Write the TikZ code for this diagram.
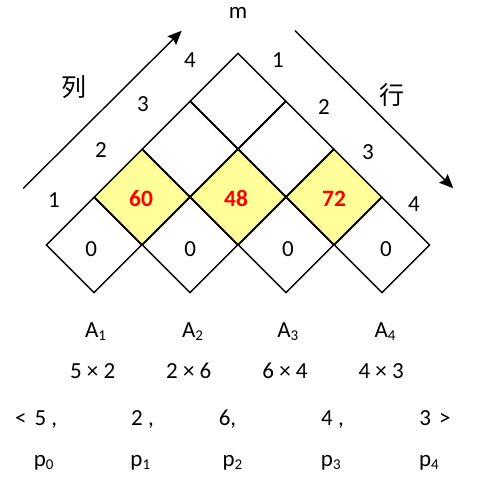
\documentclass[tikz,border=0pt]{standalone}
\usepackage{fontspec}
\setmainfont{Carlito}
\newfontfamily\cjk{Noto Sans CJK SC}
\usetikzlibrary{shapes.geometric,arrows.meta}
\definecolor{hl}{RGB}{255,255,153}
\definecolor{valred}{RGB}{255,0,0}
\newcommand\sbs[1]{\raisebox{-3pt}{\fontsize{15}{16}\selectfont #1}}
\begin{document}
\begin{tikzpicture}[x=1pt,y=-1pt,
  cell/.style={diamond,draw,line width=1.4pt,minimum width=96pt,minimum height=96pt,inner sep=0pt,aspect=1},
  hot/.style={cell,fill=hl},
  txt/.style={font=\fontsize{23}{27}\selectfont,inner sep=0pt},
  val/.style={txt,text=valred,font=\fontsize{23.5}{27}\selectfont\bfseries},
  bt/.style={txt,anchor=base},
  cjkt/.style={inner sep=0pt,font=\fontsize{25}{29}\selectfont\cjk},
  arr/.style={line width=1.4pt,-{Stealth[length=14pt,width=12pt,inset=2pt]}}]
\useasboundingbox (0,0) rectangle (478,495);
% bottom row
\node[cell] (c1) at (94,245) {};
\node[cell] (c2) at (190,245) {};
\node[cell] (c3) at (286,245) {};
\node[cell] (c4) at (382,245) {};
% upper rows
\node[cell] (c23) at (190,149) {};
\node[cell] (c34) at (286,149) {};
\node[cell] (c14) at (238,101) {};
% highlighted row
\node[hot] (c12) at (142,197) {};
\node[hot] (c22) at (238,197) {};
\node[hot] (c32) at (334,197) {};
% values
\node[val] (v12) at (141,198.5) {60};
\node[val] (v22) at (236,198.5) {48};
\node[val] (v32) at (334,198.5) {72};
\node[txt] (z1) at (91.2,249.5) {0};
\node[txt] (z2) at (190.3,249.5) {0};
\node[txt] (z3) at (288,249.5) {0};
\node[txt] (z4) at (386,249.5) {0};
% side labels
\node[txt] (l1) at (54,199.7) {1};
\node[txt] (l2) at (101,150) {2};
\node[txt] (l3) at (143,103.8) {3};
\node[txt] (l4) at (190,60) {4};
\node[txt] (r1) at (278,60) {1};
\node[txt] (r2) at (324,107) {2};
\node[txt] (r3) at (368,152) {3};
\node[txt] (r4) at (414,204) {4};
\node[txt] (m) at (238,12.8) {m};
\node[cjkt] (lie) at (74,87) {列};
\node[cjkt] (hang) at (392,95) {行};
% arrows
\coordinate (la1) at (23.3,188.3);
\coordinate (la2) at (181.7,30.7);
\coordinate (ra1) at (295,30.7);
\coordinate (ra2) at (453.3,188.3);
\draw[arr] (la1) -- (la2);
\draw[arr] (ra1) -- (ra2);
% matrices
\node[bt] (a1) at (95.5,337) {A\sbs{1}};
\node[bt] (a2) at (192.5,337) {A\sbs{2}};
\node[bt] (a3) at (287.8,337) {A\sbs{3}};
\node[bt] (a4) at (385,337) {A\sbs{4}};
\node[bt] (d1) at (92.7,378) {5 × 2};
\node[bt] (d2) at (188.8,378) {2 × 6};
\node[bt] (d3) at (285,378) {6 × 4};
\node[bt] (d4) at (381.2,378) {4 × 3};
\node[bt] (s0) at (36.2,425) {<\hspace{8pt}5 ,};
\node[bt] (s1) at (142.5,425) {2 ,};
\node[bt] (s2) at (227.5,425) {6,};
\node[bt] (s3) at (332.5,425) {4 ,};
\node[bt] (s4) at (435,425) {3\hspace{8pt}>};
\node[bt] (p0) at (43.7,466) {p\sbs{0}};
\node[bt] (p1) at (140.3,466) {p\sbs{1}};
\node[bt] (p2) at (232.5,466) {p\sbs{2}};
\node[bt] (p3) at (330.8,466) {p\sbs{3}};
\node[bt] (p4) at (429,466) {p\sbs{4}};
\end{tikzpicture}
\end{document}
